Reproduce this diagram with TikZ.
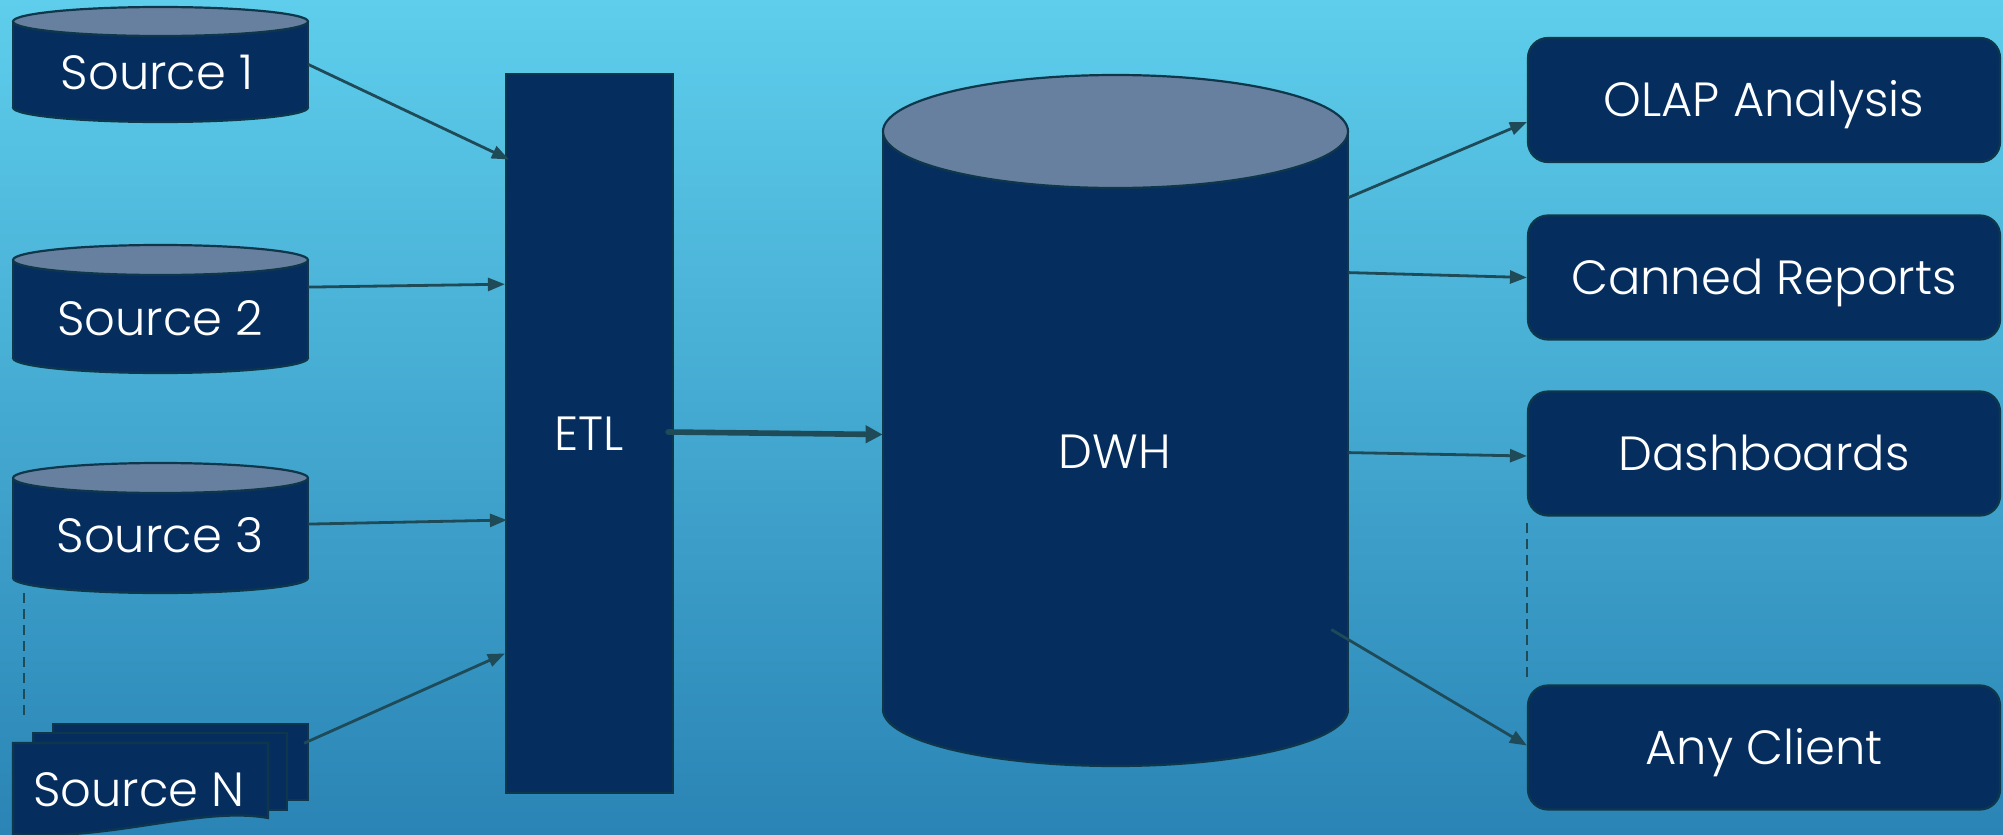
\documentclass[tikz,border=0pt]{standalone}
\usepackage{fontspec}
\IfFontExistsTF{Poppins Light}{\setmainfont{Poppins Light}}{\setmainfont{Poppins}}
\usetikzlibrary{arrows.meta,calc}
\definecolor{navy}{RGB}{5,46,95}
\definecolor{slate}{RGB}{104,128,159}
\definecolor{edgec}{RGB}{14,55,75}
\definecolor{arrowc}{RGB}{31,74,88}
\definecolor{bgtop}{RGB}{94,206,236}
\definecolor{bgbot}{RGB}{42,132,181}
\newcommand\dbshape[5]{%
  \pgfmathsetmacro\cylcx{(#1+#2)/2}%
  \pgfmathsetmacro\cylrx{(#2-#1)/4}%
  \pgfmathsetmacro\cylry{#5/2}%
  \pgfmathsetmacro\cylyt{#3+#5}%
  \pgfmathsetmacro\cylyb{#4-#5}%
  \draw[shapeline,fill=navy] (\cylcx,\cylyb) ellipse[x radius=\cylrx pt, y radius=\cylry pt];
  \fill[navy] (#1,\cylyt) rectangle (#2,\cylyb);
  \draw[shapeline] (#1,\cylyt) -- (#1,\cylyb) (#2,\cylyt) -- (#2,\cylyb);
  \draw[shapeline,fill=slate] (\cylcx,\cylyt) ellipse[x radius=\cylrx pt, y radius=\cylry pt];
}
\begin{document}
\begin{tikzpicture}[x=0.5pt,y=-0.5pt,
  shapeline/.style={draw=edgec, line width=1.1pt},
  lbl/.style={text=white, font=\fontsize{24}{29}\selectfont, inner sep=0pt, text height=16.8pt, text depth=0pt},
  ghost/.style={draw=none, inner sep=0pt},
  outbox/.style={shapeline, fill=navy, rounded corners=10pt, minimum width=236pt, minimum height=62pt, lbl},
  conn/.style={draw=arrowc, line width=1.4pt, -{Triangle[length=8.5pt,width=6.5pt]}},
  bigconn/.style={draw=arrowc, line width=2.8pt, line cap=round, -{Triangle[length=8.5pt,width=8.5pt]}},
  dashline/.style={draw=arrowc, line width=1pt, dash pattern=on 5pt off 3pt}]
\useasboundingbox (0,0) rectangle (2003,835);
\shade[top color=bgtop,bottom color=bgbot] (0,0) rectangle (2003,835);

% source cylinders
\dbshape{13}{308}{7}{122}{14.5}
\node[ghost, minimum width=147.5pt, minimum height=57.5pt] (s1) at (160.5,64.5) {};
\node[lbl] (s1t) at (157,73) {Source 1};

\dbshape{13}{308}{245}{373}{15}
\node[ghost, minimum width=147.5pt, minimum height=64pt] (s2) at (160.5,309) {};
\node[lbl] (s2t) at (160,319) {Source 2};

\dbshape{13}{308}{463}{593}{15}
\node[ghost, minimum width=147.5pt, minimum height=65pt] (s3) at (160.5,528) {};
\node[lbl] (s3t) at (160,536) {Source 3};

% source N (stacked documents)
\node[shapeline, fill=navy, minimum width=127.5pt, minimum height=38pt, inner sep=0pt] (snb) at (180.5,762) {};
\node[shapeline, fill=navy, minimum width=127pt, minimum height=38.5pt, inner sep=0pt] (snm) at (160,771.5) {};
\draw[shapeline, fill=navy] (13,743) -- (268,743) -- (268,818)
  .. controls (200,806) and (110,842) .. (13,834) -- cycle;
\node[lbl] (snt) at (139,790) {Source N};

% dashed ellipsis lines
\coordinate (dla) at (24,593);
\coordinate (dlb) at (24,718);
\draw[dashline] (dla) -- (dlb);

% ETL
\node[shapeline, fill=navy, minimum width=83.5pt, minimum height=359.5pt, lbl] (etl) at (589.5,433.5) {ETL};

% DWH
\dbshape{883}{1348}{75}{766}{56.5}
\node[ghost, minimum width=232.5pt, minimum height=345.5pt] (dwh) at (1115.5,420.5) {};
\node[lbl] (dwht) at (1115,452) {DWH};

% outputs
\node[outbox] (olap) at (1764,100) {OLAP Analysis};
\node[outbox] (canned) at (1764,277.5) {Canned Reports};
\node[outbox] (dash) at (1764,453.5) {Dashboards};
\node[outbox] (any) at (1764,747.5) {Any Client};

\coordinate (dra) at (1527,523);
\coordinate (drb) at (1527,677);
\draw[dashline] (dra) -- (drb);

% connectors
\draw[conn] (s1.east) -- ($(etl.north west)!0.12!(etl.south west)+(4,0)$);
\draw[conn] ($(s2.north east)!0.33!(s2.south east)$) -- ($(etl.north west)!0.293!(etl.south west)$);
\draw[conn] ($(s3.north east)!0.47!(s3.south east)$) -- ($(etl.north west)!0.62!(etl.south west)+(2,0)$);
\draw[conn] ($(snb.north east)!0.26!(snb.south east)+(-5,0)$) -- ($(etl.north west)!0.805!(etl.south west)$);
\draw[bigconn] ($(etl.east)+(-6,-1.5)$) -- ($(dwh.west)+(0,14)$);
\draw[conn] ($(dwh.north east)+(0,123)$) -- ($(olap.west)+(0,22)$);
\draw[conn] ($(dwh.north east)+(0,198)$) -- (canned.west);
\draw[conn] ($(dwh.north east)+(0,378)$) -- ($(dash.west)+(0,2.5)$);
\draw[conn] ($(dwh.north east)+(-17,555)$) -- ($(any.west)+(0,-2)$);
\end{tikzpicture}
\end{document}
